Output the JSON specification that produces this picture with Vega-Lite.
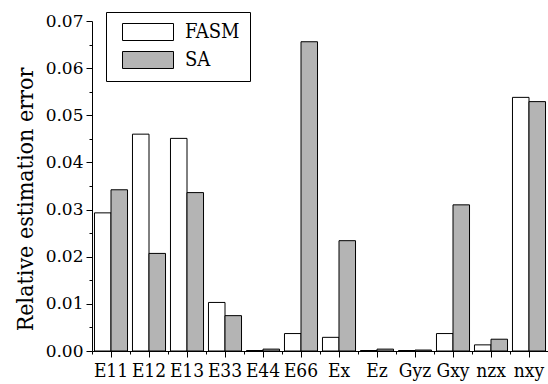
{
  "$schema": "https://vega.github.io/schema/vega-lite/v6.json",
  "width": 456,
  "height": 330,
  "autosize": {"type": "none"},
  "padding": {"left": 92, "top": 21, "right": 0, "bottom": 33},
  "config": {
    "view": {"stroke": null},
    "font": "DejaVu Serif",
    "axis": {"domainColor": "black", "tickColor": "black", "labelColor": "black", "titleColor": "black", "grid": false}
  },
  "data": {"values": [
    {"param": "E11", "method": "FASM", "error": 0.0293},
    {"param": "E12", "method": "FASM", "error": 0.046},
    {"param": "E13", "method": "FASM", "error": 0.0451},
    {"param": "E33", "method": "FASM", "error": 0.0103},
    {"param": "E44", "method": "FASM", "error": 0.0001},
    {"param": "E66", "method": "FASM", "error": 0.0037},
    {"param": "Ex", "method": "FASM", "error": 0.0029},
    {"param": "Ez", "method": "FASM", "error": 0.0001},
    {"param": "Gyz", "method": "FASM", "error": 0.0001},
    {"param": "Gxy", "method": "FASM", "error": 0.0037},
    {"param": "nzx", "method": "FASM", "error": 0.0013},
    {"param": "nxy", "method": "FASM", "error": 0.0538},
    {"param": "E11", "method": "SA", "error": 0.0342},
    {"param": "E12", "method": "SA", "error": 0.0207},
    {"param": "E13", "method": "SA", "error": 0.0336},
    {"param": "E33", "method": "SA", "error": 0.0075},
    {"param": "E44", "method": "SA", "error": 0.0004},
    {"param": "E66", "method": "SA", "error": 0.0656},
    {"param": "Ex", "method": "SA", "error": 0.0234},
    {"param": "Ez", "method": "SA", "error": 0.0004},
    {"param": "Gyz", "method": "SA", "error": 0.0002},
    {"param": "Gxy", "method": "SA", "error": 0.031},
    {"param": "nzx", "method": "SA", "error": 0.0025},
    {"param": "nxy", "method": "SA", "error": 0.0529}
  ]},
  "layer": [
    {
      "mark": {"type": "bar", "stroke": "black", "strokeWidth": 1},
      "encoding": {
        "x": {"field": "param", "type": "nominal", "sort": null,
          "scale": {"paddingInner": 0, "paddingOuter": 0},
          "axis": {"title": null, "orient": "bottom", "labelAngle": 0, "labelFontSize": 19, "tickSize": 6, "labelPadding": 4, "labelFont": "DejaVu Serif Condensed"}},
        "xOffset": {"field": "method", "type": "nominal", "scale": {"paddingInner": 0, "paddingOuter": 0.15}},
        "y": {"field": "error", "type": "quantitative",
          "scale": {"domain": [0, 0.07], "nice": false},
          "axis": {"title": "Relative estimation error", "orient": "left",
            "values": [0, 0.01, 0.02, 0.03, 0.04, 0.05, 0.06, 0.07], "format": ".2f",
            "labelFontSize": 17, "tickSize": 6, "labelPadding": 3, "labelFont": "DejaVu Serif",
            "titleFontSize": 23, "titleFontWeight": "normal", "titleX": -60, "titleY": 178, "titleFont": "DejaVu Serif Condensed",
            "titleBaseline": "alphabetic", "titleAlign": "center", "titleAngle": 270}},
        "fill": {"field": "method", "type": "nominal",
          "scale": {"domain": ["FASM", "SA"], "range": ["white", "#b4b4b4"]},
          "legend": {"title": null, "orient": "none", "legendX": 14, "legendY": -9, "direction": "vertical",
            "strokeColor": "black", "padding": 10,
            "symbolType": "M-3,-1H3V1H-3Z", "symbolSize": 289, "symbolStrokeColor": "black", "symbolStrokeWidth": 1,
            "symbolOffset": 22, "labelOffset": 27, "labelFontSize": 20, "labelColor": "black", "labelFont": "DejaVu Serif Condensed",
            "rowPadding": 6}}
      }
    },
    {
      "mark": {"type": "bar", "opacity": 0},
      "encoding": {
        "x": {"field": "param", "type": "nominal", "sort": null,
          "axis": {"title": null, "orient": "bottom", "labels": false, "domain": false, "tickSize": 3, "bandPosition": 0}},
        "xOffset": {"field": "method", "type": "nominal"},
        "y": {"field": "error", "type": "quantitative",
          "axis": {"title": null, "orient": "left", "labels": false, "domain": false, "tickSize": 3,
            "values": [0.005, 0.015, 0.025, 0.035, 0.045, 0.055, 0.065]}}
      }
    }
  ],
  "resolve": {"axis": {"x": "independent", "y": "independent"}}
}
